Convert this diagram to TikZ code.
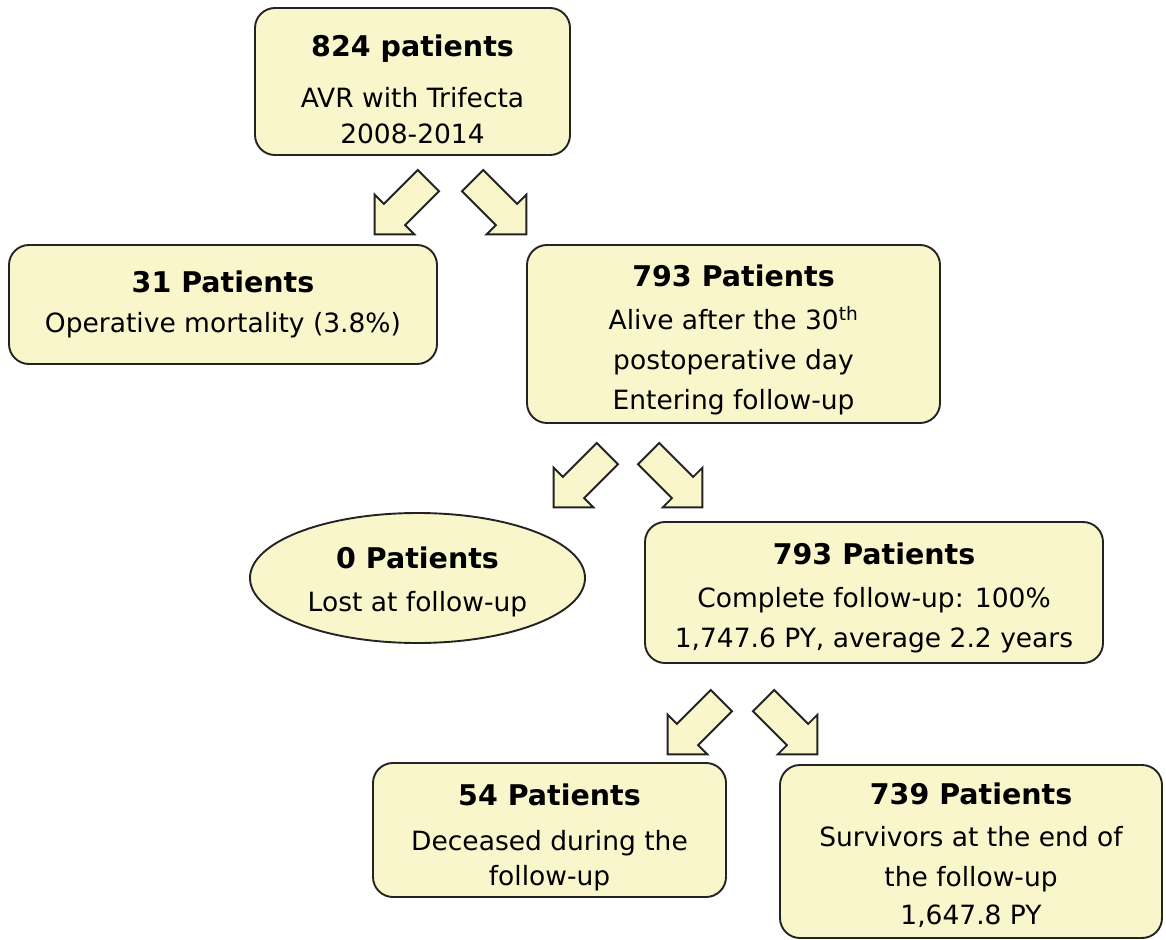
\documentclass[tikz,border=0pt]{standalone}
\usepackage{fontspec}
\setmainfont{DejaVu Sans}
\usetikzlibrary{shapes.geometric}
\definecolor{boxfill}{RGB}{250,246,204}
\definecolor{edgegray}{RGB}{35,35,35}
% title line, with an optional strut that pushes the text down
\newcommand{\ttl}[2][0pt]{{\fontsize{28.5}{34}\selectfont\bfseries\rule{0pt}{#1}#2}}

\begin{document}
\begin{tikzpicture}[x=1pt, y=1pt,
    box/.style={draw=edgegray, line width=1.9pt, fill=boxfill, rounded corners=20pt,
      align=center, inner sep=0pt, font=\fontsize{26.5}{40}\selectfont},
    oval/.style={box, ellipse, sharp corners},
    arrowline/.style={draw=edgegray, line width=1.9pt, fill=boxfill, line join=miter},
    fatarrow/.pic={\draw[arrowline] (0,-15) -- (48,-15) -- (48,-28) -- (76,0) -- (48,28) -- (48,15) -- (0,15) -- cycle;}
]
\useasboundingbox (0,0) rectangle (1166,-939);

% Boxes
\node[box, minimum width=315pt, minimum height=147pt] (all) at (412.5,-81.5)
  {\ttl[37pt]{824 patients}\\[11pt] AVR with Trifecta\\[-4pt] 2008-2014};
\node[box, minimum width=428pt, minimum height=119pt] (opdead) at (223,-304.5)
  {\ttl{31 Patients}\\ Operative mortality (3.8\%)};
\node[box, minimum width=413pt, minimum height=178pt] (alive) at (733.5,-334)
  {\ttl[33pt]{793 Patients}\\[3pt] Alive after the 30\textsuperscript{th}\\ postoperative day\\ Entering follow-up};
\node[oval, minimum width=335pt, minimum height=130pt] (lost) at (417.5,-578)
  {\ttl[29pt]{0 Patients}\\[3pt] Lost at follow-up};
\node[box, minimum width=458pt, minimum height=141pt] (followup) at (874,-592.5)
  {\ttl[33pt]{793 Patients}\\[3pt] Complete follow-up: 100\%\\ 1,747.6 PY, average 2.2 years};
\node[box, minimum width=353pt, minimum height=134pt] (deceased) at (549.5,-830)
  {\ttl[37pt]{54 Patients}\\[5pt] Deceased during the\\[-5pt] follow-up};
\node[box, minimum width=382pt, minimum height=173pt] (survivors) at (971,-851.5)
  {\ttl[29pt]{739 Patients}\\[2pt] Survivors at the end of\\ the follow-up\\[-2pt] 1,647.8 PY};

% Block arrows
\pic[rotate=225] at (428.4,-180.6) {fatarrow};
\pic[rotate=-45] at (472.6,-180.6) {fatarrow};
\pic[rotate=225] at (607.4,-453.6) {fatarrow};
\pic[rotate=-45] at (648.6,-453.6) {fatarrow};
\pic[rotate=225] at (721.4,-700.6) {fatarrow};
\pic[rotate=-45] at (763.6,-700.6) {fatarrow};
\end{tikzpicture}
\end{document}
